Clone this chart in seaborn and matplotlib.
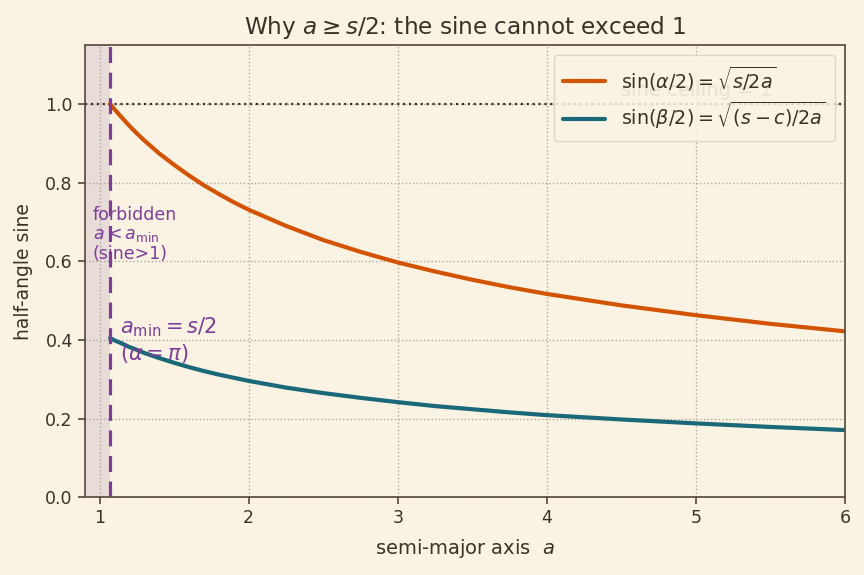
import numpy as np
import pandas as pd
import seaborn as sns
import matplotlib.pyplot as plt

# values
a_vals = [1.07, 1.1, 1.15, 1.2, 1.25, 1.3, 1.4, 1.5, 1.6, 1.7, 1.8, 1.9, 2.0, 2.25,
          2.5, 2.75, 3.0, 3.25, 3.5, 3.75, 4.0, 4.5, 5.0, 5.5, 6.0]
sin_alpha = [1.000, 0.986, 0.965, 0.944, 0.925, 0.907, 0.874, 0.845, 0.818, 0.793,
             0.771, 0.750, 0.731, 0.690, 0.654, 0.624, 0.597, 0.574, 0.553, 0.534,
             0.517, 0.488, 0.463, 0.441, 0.422]
sin_beta = [0.405, 0.399, 0.391, 0.382, 0.375, 0.367, 0.354, 0.342, 0.331, 0.321,
            0.312, 0.304, 0.296, 0.279, 0.265, 0.253, 0.242, 0.232, 0.224, 0.216,
            0.209, 0.198, 0.188, 0.179, 0.171]
a_min = 1.07

bg = "#faf3e3"
ink = "#3b3128"
orange = "#d35400"
teal = "#1a6878"
purple = "#7d3c98"

sns.set_theme(style="ticks")
plt.rcParams.update({
    "figure.facecolor": bg, "axes.facecolor": bg, "savefig.facecolor": bg,
    "axes.edgecolor": "#5a4e42", "text.color": ink, "axes.labelcolor": ink,
    "xtick.color": "#5a4e42", "ytick.color": "#5a4e42",
    "xtick.labelcolor": ink, "ytick.labelcolor": ink,
})

df = pd.DataFrame({"a": a_vals, "alpha": sin_alpha, "beta": sin_beta})

fig, ax = plt.subplots(figsize=(8.64, 5.75), dpi=100)
fig.subplots_adjust(left=0.098, right=0.978, top=0.922, bottom=0.135)

ax.axvspan(0.9, a_min, color="#b59ab8", alpha=0.25, lw=0)
ax.axhline(1.0, color=ink, ls=":", lw=1.6)
ax.text(4.5, 1.01, "sine ceiling = 1", ha="left", va="bottom", fontsize=14, color=ink, alpha=0.6)

sns.lineplot(data=df, x="a", y="alpha", ax=ax, color=orange, lw=3,
             label=r"$\sin(\alpha/2) = \sqrt{s/2a}$")
sns.lineplot(data=df, x="a", y="beta", ax=ax, color=teal, lw=3,
             label=r"$\sin(\beta/2) = \sqrt{(s-c)/2a}$")

ax.axvline(a_min, color=purple, ls=(0, (5, 3)), lw=2.3)
ax.text(a_min + 0.07, 0.462, "$a_{\\min} = s/2$\n$(\\alpha = \\pi)$", color=purple,
        fontsize=15, va="top", ha="left", linespacing=1.15)
ax.text(0.955, 0.74, "forbidden\n$a < a_{\\min}$\n(sine>1)", color=purple,
        fontsize=12.5, va="top", ha="left", linespacing=1.05)

ax.set_xlim(0.9, 6)
ax.set_ylim(0, 1.15)
ax.set_xticks([1, 2, 3, 4, 5, 6])
ax.set_yticks([0, 0.2, 0.4, 0.6, 0.8, 1.0])
ax.grid(True, ls=":", color="#b0a898", lw=1)
ax.tick_params(labelsize=12.5, length=5)
ax.set_xlabel("semi-major axis  $a$", fontsize=14, labelpad=7)
ax.set_ylabel("half-angle sine", fontsize=13.5, labelpad=9)
ax.set_title("Why $a \\geq s/2$: the sine cannot exceed 1", fontsize=16.7, pad=8)

leg = ax.legend(loc="upper right", fontsize=13.8, framealpha=0.85, facecolor=bg,
                edgecolor="#d8d0c0", handlelength=2.2, borderpad=0.5,
                labelspacing=0.4, borderaxespad=0, bbox_to_anchor=(0.987, 0.978))

plt.savefig("out.png", dpi=100)
